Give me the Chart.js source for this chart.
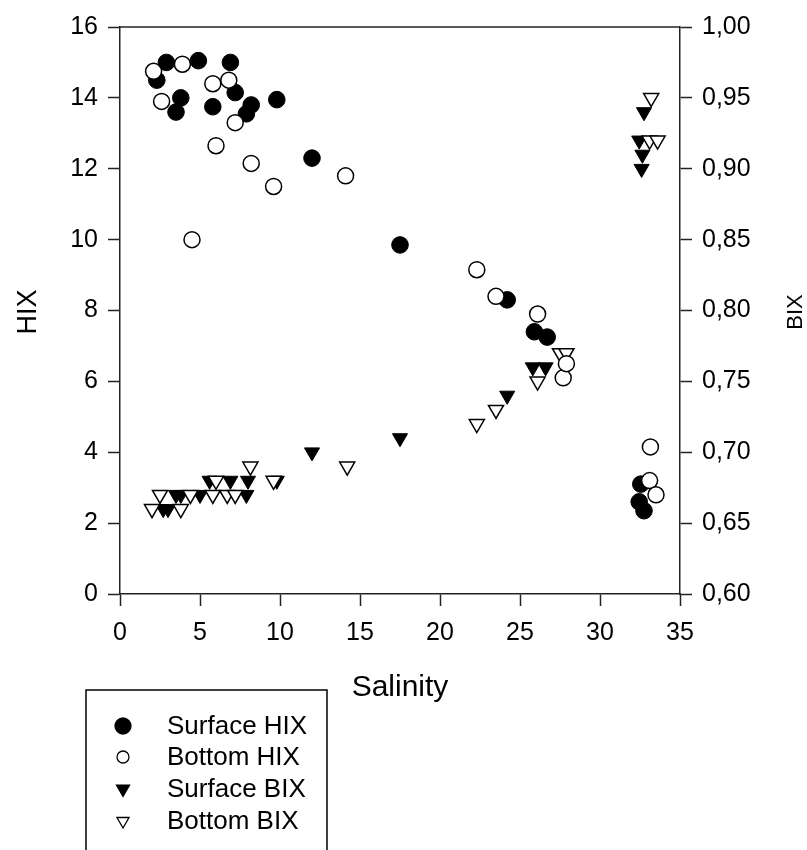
<!DOCTYPE html>
<html>
<head>
<meta charset="utf-8">
<script src="https://cdn.jsdelivr.net/npm/chart.js@4"></script>
<style>
  html, body { margin: 0; padding: 0; background: #fff; }
</style>
</head>
<body>
<canvas id="chart" width="807" height="850"></canvas>
<script>
// data
const surfHixX = [2.3, 2.9, 3.5, 3.8, 4.9, 5.8, 6.9, 7.2, 7.9, 8.2, 9.8, 12.0, 17.5, 24.2, 25.9, 26.7, 32.55, 32.45, 32.75];
const surfHixY = [14.5, 15.0, 13.6, 14.0, 15.05, 13.75, 15.0, 14.15, 13.55, 13.8, 13.95, 12.3, 9.85, 8.3, 7.4, 7.25, 3.1, 2.6, 2.35];

const botHixX = [2.1, 2.6, 3.9, 4.5, 5.8, 6.0, 6.8, 7.2, 8.2, 9.6, 14.1, 22.3, 23.5, 26.1, 27.7, 27.9, 33.15, 33.1, 33.5];
const botHixY = [14.75, 13.9, 14.95, 10.0, 14.4, 12.65, 14.5, 13.3, 12.15, 11.5, 11.8, 9.15, 8.4, 7.9, 6.1, 6.5, 4.15, 3.2, 2.8];

const surfBixX = [2.7, 3.0, 3.5, 3.8, 5.0, 7.9, 5.6, 6.9, 8.0, 9.8, 12.0, 17.5, 24.2, 25.8, 26.6, 32.75, 32.45, 32.65, 32.6];
const surfBixY = [0.66, 0.66, 0.67, 0.67, 0.67, 0.67, 0.68, 0.68, 0.68, 0.68, 0.70, 0.71, 0.74, 0.76, 0.76, 0.94, 0.92, 0.91, 0.90];

const botBixX = [2.0, 3.8, 2.5, 4.4, 5.8, 6.7, 7.2, 6.0, 9.6, 8.15, 14.2, 22.3, 23.5, 26.1, 27.5, 27.9, 33.2, 33.1, 33.6];
const botBixY = [0.66, 0.66, 0.67, 0.67, 0.67, 0.67, 0.67, 0.68, 0.68, 0.69, 0.69, 0.72, 0.73, 0.75, 0.77, 0.77, 0.95, 0.92, 0.92];

const xTicks = [0, 5, 10, 15, 20, 25, 30, 35];
const hixTicks = [0, 2, 4, 6, 8, 10, 12, 14, 16];
const bixTicks = [0.60, 0.65, 0.70, 0.75, 0.80, 0.85, 0.90, 0.95, 1.00];

const seriesNames = ['Surface HIX', 'Bottom HIX', 'Surface BIX', 'Bottom BIX'];

const FONT = '"Liberation Sans", Arial, sans-serif';
const INK = '#222';

const pts = (xs, ys) => xs.map((x, i) => ({ x: x, y: ys[i] }));

// legend markers (drawn by hand, the figure has a boxed legend under the plot)
const legendMarks = [
  { style: 'circle', r: 8, fill: '#000', rot: 0 },
  { style: 'circle', r: 6, fill: '#fff', rot: 0 },
  { style: 'triangle', r: 7.5, fill: '#000', rot: 180 },
  { style: 'triangle', r: 7, fill: '#fff', rot: 180 }
];

const decor = {
  id: 'decor',
  afterDraw(chart) {
    const ctx = chart.ctx;
    const a = chart.chartArea;
    ctx.save();
    // top frame line
    ctx.strokeStyle = INK;
    ctx.lineWidth = 1.5;
    ctx.beginPath();
    ctx.moveTo(a.left, a.top);
    ctx.lineTo(a.right, a.top);
    ctx.stroke();

    ctx.fillStyle = '#000';
    ctx.textAlign = 'center';
    ctx.textBaseline = 'middle';

    // axis titles
    ctx.font = '27px ' + FONT;
    ctx.save();
    ctx.translate(29, 312);
    ctx.rotate(-Math.PI / 2);
    ctx.fillText('HIX', 0, 0);
    ctx.restore();

    ctx.font = '22px ' + FONT;
    ctx.save();
    ctx.translate(796, 312);
    ctx.rotate(-Math.PI / 2);
    ctx.fillText('BIX', 0, 0);
    ctx.restore();

    ctx.font = '30px ' + FONT;
    ctx.fillText('Salinity', 400, 688);

    // legend box
    ctx.lineWidth = 1.5;
    ctx.strokeStyle = '#000';
    ctx.strokeRect(86, 690, 241, 200);
    ctx.font = '26px ' + FONT;
    ctx.textAlign = 'left';
    const rows = [726, 757, 789, 821];
    legendMarks.forEach((m, i) => {
      ctx.fillStyle = m.fill;
      ctx.strokeStyle = '#000';
      ctx.lineWidth = 1.3;
      Chart.helpers.drawPoint(ctx, { pointStyle: m.style, radius: m.r, rotation: m.rot, borderWidth: 1.3 }, 123, rows[i]);
      ctx.fillStyle = '#000';
      ctx.fillText(seriesNames[i], 167, rows[i] + 1);
    });
    ctx.restore();
  }
};

const tickFont = { family: FONT, size: 25 };

new Chart(document.getElementById('chart'), {
  type: 'scatter',
  data: {
    datasets: [
      {
        label: seriesNames[1], data: pts(botHixX, botHixY), yAxisID: 'y',
        pointStyle: 'circle', pointRadius: 8, backgroundColor: '#fff', borderColor: '#000', borderWidth: 1.5
      },
      {
        label: seriesNames[0], data: pts(surfHixX, surfHixY), yAxisID: 'y',
        pointStyle: 'circle', pointRadius: 8.3, backgroundColor: '#000', borderColor: '#000', borderWidth: 1
      },
      {
        label: seriesNames[3], data: pts(botBixX, botBixY), yAxisID: 'y2',
        pointStyle: 'triangle', rotation: 180, pointRadius: 8.7, backgroundColor: '#fff', borderColor: '#000', borderWidth: 1.5
      },
      {
        label: seriesNames[2], data: pts(surfBixX, surfBixY), yAxisID: 'y2',
        pointStyle: 'triangle', rotation: 180, pointRadius: 8.7, backgroundColor: '#000', borderColor: '#000', borderWidth: 1
      }
    ]
  },
  options: {
    responsive: false,
    animation: false,
    layout: { padding: { top: 27, left: 0, right: 0, bottom: 0 } },
    plugins: { legend: { display: false }, tooltip: { enabled: false } },
    scales: {
      x: {
        type: 'linear', position: 'bottom', min: 0, max: 35,
        afterBuildTicks: s => { s.ticks = xTicks.map(v => ({ value: v })); },
        afterFit: s => { s.height = 256; },
        ticks: { color: '#000', font: tickFont, padding: 12, maxRotation: 0 },
        grid: { drawOnChartArea: false, drawTicks: true, tickLength: 12, tickColor: INK, tickWidth: 1.5 },
        border: { color: INK, width: 1.5 }
      },
      y: {
        type: 'linear', position: 'left', min: 0, max: 16,
        afterBuildTicks: s => { s.ticks = hixTicks.map(v => ({ value: v })); },
        afterFit: s => { s.width = 120; },
        ticks: { color: '#000', font: tickFont, padding: 10 },
        grid: { drawOnChartArea: false, drawTicks: true, tickLength: 12, tickColor: INK, tickWidth: 1.5 },
        border: { color: INK, width: 1.5 }
      },
      y2: {
        type: 'linear', position: 'right', min: 0.6, max: 1.0,
        afterBuildTicks: s => { s.ticks = bixTicks.map(v => ({ value: v })); },
        afterFit: s => { s.width = 127; },
        ticks: { color: '#000', font: tickFont, padding: 10, callback: v => v.toFixed(2).replace('.', ',') },
        grid: { drawOnChartArea: false, drawTicks: true, tickLength: 12, tickColor: INK, tickWidth: 1.5 },
        border: { color: INK, width: 1.5 }
      }
    }
  },
  plugins: [decor]
});
</script>
</body>
</html>
